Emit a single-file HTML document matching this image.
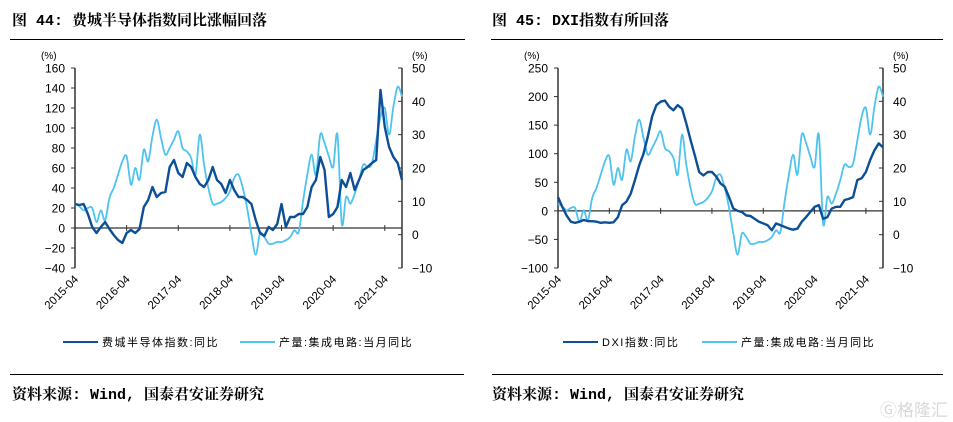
<!DOCTYPE html>
<html><head><meta charset="utf-8"><style>
body{margin:0;background:#fff;width:953px;height:422px;overflow:hidden;position:relative;font-family:"Liberation Sans","Noto Sans CJK SC",sans-serif}
.t{position:absolute;font-weight:bold;font-size:15px;color:#000;font-family:"Liberation Mono","Noto Serif CJK SC",serif;white-space:nowrap}
.rule{position:absolute;height:1px;background:#000}
</style></head><body>
<div class="t" style="left:12px;top:9px">图 44: 费城半导体指数同比涨幅回落</div>
<div class="t" style="left:492px;top:9px">图 45: DXI指数有所回落</div>
<div class="rule" style="left:10px;top:39px;width:455px"></div>
<div class="rule" style="left:491px;top:39px;width:452px"></div>
<div class="rule" style="left:10px;top:374px;width:454px"></div>
<div class="rule" style="left:492px;top:374px;width:451px"></div>
<div class="t" style="left:12px;top:383px">资料来源: Wind, 国泰君安证券研究</div>
<div class="t" style="left:492px;top:383px">资料来源: Wind, 国泰君安证券研究</div>
<div style="position:absolute;left:880px;top:396px;font-size:17px;color:#d8d8d8;font-family:'Noto Sans CJK SC',sans-serif">Ⓖ格隆汇</div>
<svg id="svg" width="953" height="422" style="position:absolute;left:0;top:0"></svg>
<script>
const months = 77; // 2015-04 .. 2021-08
const xTickLabels = ["2015-04","2016-04","2017-04","2018-04","2019-04","2020-04","2021-04"];
const icProduction = [9.3,8.5,7.3,8,8,3.8,7.3,4.3,11,14,18,22,23.5,15,20,16.5,25.5,22,29.5,34.5,29,24,26,28.5,31,26,25,23,18,30,21,14,9.3,9.3,9.8,11,13,17,18,14,8,0.3,-6,0.3,-0.7,-2.7,-2.7,-2.2,-2.2,-1.7,-0.7,1.3,0.8,10,18,24,18,30,27.5,23.5,20.3,30,3.3,11.3,9.3,12.3,16.3,21,20.3,21.3,28.3,35.4,38,30,38.4,44.4,41.4];
const soxYoy = [24,23,24,14,1,-5,1,6,-1,-7,-12,-15,-5,-2,-5,-1,21,28,41,31,35,36,61,68,55,51,65,61,51,44,41,48,61,48,44,35,48,38,31,31,28,24,8,-5,-8,1,-2,4,24,1,11,11,14,14,21,41,48,71,58,11,14,21,48,41,55,38,48,58,61,65,68,138,101,81,71,65,48];
const dxiYoy = [24,7,-8,-19,-21,-19,-16,-18,-18,-19,-21,-20,-21,-20,-11,10,16,30,54,80,100,130,165,185,191,193,182,176,185,179,153,124,97,68,62,68,68,60,48,42,24,4,0,-2,-8,-9,-14,-19,-22,-25,-34,-22,-25,-28,-31,-33,-31,-19,-11,-2,7,10,-14,-11,4,7,7,19,21,24,54,57,68,89,106,118,111];
const leftTicks1 = [160,140,120,100,80,60,40,20,0,-20,-40];
const leftTicks2 = [250,200,150,100,50,0,-50,-100];
const rightTicks = [50,40,30,20,10,0,-10];
const svg = document.getElementById('svg');
const NS = 'http://www.w3.org/2000/svg';
function mk(tag, attrs, parent){const e=document.createElementNS(NS,tag);for(const k in attrs)e.setAttribute(k,attrs[k]);(parent||svg).appendChild(e);return e;}
function smooth(pts){
  let d='M'+pts[0][0]+','+pts[0][1];
  for(let i=0;i<pts.length-1;i++){
    const p0=pts[Math.max(0,i-1)],p1=pts[i],p2=pts[i+1],p3=pts[Math.min(pts.length-1,i+2)];
    const c1x=p1[0]+(p2[0]-p0[0])/6,c1y=p1[1]+(p2[1]-p0[1])/6,c2x=p2[0]-(p3[0]-p1[0])/6,c2y=p2[1]-(p3[1]-p1[1])/6;
    d+=` C${c1x},${c1y} ${c2x},${c2y} ${p2[0]},${p2[1]}`;
  }
  return d;
}
function chart(cfg){
  const g = mk('g',{});
  
  
  const {x0,x1,y0,y1,lmin,lmax} = cfg;
  const ly = v => y1 + (lmax - v) / (lmax - lmin) * (y0 - y1);
  const ry = v => y1 + (50 - v) / 60 * (y0 - y1);
  const xm = i => x0 + i * (x1 - x0) / (months - 1);
  const la = mk('line',{x1:x0,y1:y1,x2:x0,y2:y0,stroke:'#333','stroke-width':1.5},g);
   
  const ra = mk('line',{x1:x1,y1:y1,x2:x1,y2:y0,stroke:'#333','stroke-width':1.5},g);
   
  const z = mk('line',{x1:x0,y1:ly(0),x2:x1,y2:ly(0),stroke:'#333','stroke-width':1.2},g);
   
  cfg.lt.forEach(v=>{
    mk('line',{x1:x0-4,y1:ly(v),x2:x0,y2:ly(v),stroke:'#333','stroke-width':1},g);
    const t = mk('text',{x:x0-10,y:ly(v)+4.5,'text-anchor':'end','font-size':12,fill:'#000'},g);
    t.textContent = v<0 ? '\u2212'+(-v) : v;
     
  });
  rightTicks.forEach(v=>{
    mk('line',{x1:x1-4,y1:ry(v),x2:x1,y2:ry(v),stroke:'#333','stroke-width':1},g);
    const t = mk('text',{x:x1+10,y:ry(v)+4.5,'text-anchor':'start','font-size':12,fill:'#000'},g);
    t.textContent = v<0 ? '\u2212'+(-v) : v;
     
  });
  const u1 = mk('text',{x:x0-34,y:y1-9,'font-size':10,fill:'#000'},g); u1.textContent='(%)';
   
  const u2 = mk('text',{x:x1+10,y:y1-9,'font-size':10,fill:'#000'},g); u2.textContent='(%)';
   
  xTickLabels.forEach((lab,k)=>{
    const x = xm(k*12);
    mk('line',{x1:x,y1:ly(0)-3,x2:x,y2:ly(0)+3,stroke:'#333','stroke-width':1},g);
    const t = mk('text',{x:x+4,y:y0+12,'text-anchor':'end','font-size':11.5,fill:'#000',transform:`rotate(-45 ${x+4} ${y0+12})`},g);
    t.textContent = lab;
     
  });
  const pl = mk('path',{d:smooth(icProduction.map((v,i)=>[xm(i),ry(v)])),fill:'none',stroke:'#4fc3ef','stroke-width':1.8,'stroke-linejoin':'round'},g);
   
  const dl = mk('polyline',{points:cfg.dark.map((v,i)=>xm(i)+','+ly(v)).join(' '),fill:'none',stroke:'#0d4f96','stroke-width':2.4,'stroke-linejoin':'round'},g);
   
  const L = cfg.leg;
  mk('line',{x1:L[0],y1:342,x2:L[0]+35,y2:342,stroke:'#0d4f96','stroke-width':2},g);
  const t1 = mk('text',{x:L[0]+39,y:346,'font-size':11,fill:'#000','letter-spacing':1.5},g); t1.textContent = cfg.darkLabel;
   
  mk('line',{x1:L[1],y1:342,x2:L[1]+35,y2:342,stroke:'#4fc3ef','stroke-width':2},g);
  const t2 = mk('text',{x:L[1]+39,y:346,'font-size':11,fill:'#000','letter-spacing':1.5},g); t2.textContent = '产量:集成电路:当月同比';
   
}
chart({name:'sox-chart',x0:75,x1:402,y0:268,y1:68,lmin:-40,lmax:160,lt:leftTicks1,dark:soxYoy,darkName:'sox-yoy-line',darkLabel:'费城半导体指数:同比',leg:[63,240]});
chart({name:'dxi-chart',x0:558,x1:883,y0:268,y1:68,lmin:-100,lmax:250,lt:leftTicks2,dark:dxiYoy,darkName:'dxi-yoy-line',darkLabel:'DXI指数:同比',leg:[563,702]});
</script>
</body></html>
